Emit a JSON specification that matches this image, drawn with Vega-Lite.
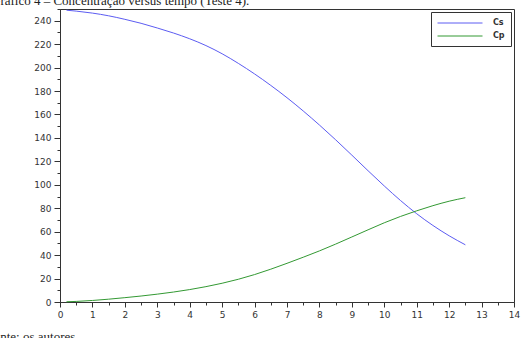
{
  "$schema": "https://vega.github.io/schema/vega-lite/v6.json",
  "autosize": "none",
  "width": 454,
  "height": 293,
  "padding": {"left": 60, "top": 9, "right": 11, "bottom": 36},
  "background": "white",
  "title": {
    "text": "Gráfico 4 – Concentração versus tempo (Teste 4).",
    "anchor": "start",
    "frame": "group",
    "font": "Liberation Serif",
    "fontSize": 13,
    "fontWeight": "normal",
    "color": "#222222",
    "baseline": "alphabetic",
    "dx": -69,
    "offset": 0,
    "dy": 10
  },
  "data": {
    "values": [
      {"t": 0.2, "serie": "Cs", "c": 249},
      {"t": 0.5, "serie": "Cs", "c": 248.2},
      {"t": 1, "serie": "Cs", "c": 246.5},
      {"t": 1.5, "serie": "Cs", "c": 244.2},
      {"t": 2, "serie": "Cs", "c": 241.2},
      {"t": 2.5, "serie": "Cs", "c": 237.8},
      {"t": 3, "serie": "Cs", "c": 233.8},
      {"t": 3.5, "serie": "Cs", "c": 229.5},
      {"t": 4, "serie": "Cs", "c": 224.6},
      {"t": 4.5, "serie": "Cs", "c": 218.8},
      {"t": 5, "serie": "Cs", "c": 211.8},
      {"t": 5.5, "serie": "Cs", "c": 203.6},
      {"t": 6, "serie": "Cs", "c": 194.6},
      {"t": 6.5, "serie": "Cs", "c": 184.8},
      {"t": 7, "serie": "Cs", "c": 174.3},
      {"t": 7.5, "serie": "Cs", "c": 163},
      {"t": 8, "serie": "Cs", "c": 151},
      {"t": 8.5, "serie": "Cs", "c": 138.4},
      {"t": 9, "serie": "Cs", "c": 125.3},
      {"t": 9.5, "serie": "Cs", "c": 112},
      {"t": 10, "serie": "Cs", "c": 99},
      {"t": 10.5, "serie": "Cs", "c": 86.6},
      {"t": 11, "serie": "Cs", "c": 75.3},
      {"t": 11.5, "serie": "Cs", "c": 65.3},
      {"t": 12, "serie": "Cs", "c": 56.5},
      {"t": 12.5, "serie": "Cs", "c": 48.8},
      {"t": 0.2, "serie": "Cp", "c": 0.2},
      {"t": 0.5, "serie": "Cp", "c": 0.5},
      {"t": 1, "serie": "Cp", "c": 1.3},
      {"t": 1.5, "serie": "Cp", "c": 2.4},
      {"t": 2, "serie": "Cp", "c": 3.7},
      {"t": 2.5, "serie": "Cp", "c": 5.1},
      {"t": 3, "serie": "Cp", "c": 6.7},
      {"t": 3.5, "serie": "Cp", "c": 8.5},
      {"t": 4, "serie": "Cp", "c": 10.6},
      {"t": 4.5, "serie": "Cp", "c": 13.1},
      {"t": 5, "serie": "Cp", "c": 16},
      {"t": 5.5, "serie": "Cp", "c": 19.4},
      {"t": 6, "serie": "Cp", "c": 23.4},
      {"t": 6.5, "serie": "Cp", "c": 28},
      {"t": 7, "serie": "Cp", "c": 33},
      {"t": 7.5, "serie": "Cp", "c": 38.2},
      {"t": 8, "serie": "Cp", "c": 43.6},
      {"t": 8.5, "serie": "Cp", "c": 49.4},
      {"t": 9, "serie": "Cp", "c": 55.5},
      {"t": 9.5, "serie": "Cp", "c": 61.6},
      {"t": 10, "serie": "Cp", "c": 67.6},
      {"t": 10.5, "serie": "Cp", "c": 73},
      {"t": 11, "serie": "Cp", "c": 77.8},
      {"t": 11.5, "serie": "Cp", "c": 82.2},
      {"t": 12, "serie": "Cp", "c": 86},
      {"t": 12.5, "serie": "Cp", "c": 89}
    ]
  },
  "mark": {"type": "line", "strokeWidth": 1, "interpolate": "monotone"},
  "encoding": {
    "x": {
      "field": "t",
      "type": "quantitative",
      "scale": {"domain": [0, 14], "nice": false, "zero": false},
      "axis": {
        "values": [0,0.5,1,1.5,2,2.5,3,3.5,4,4.5,5,5.5,6,6.5,7,7.5,8,8.5,9,9.5,10,10.5,11,11.5,12,12.5,13,13.5,14],
        "labelExpr": "datum.value % 1 === 0 ? format(datum.value, 'd') : ''",
        "grid": false,
        "domainColor": "#333333",
        "tickColor": "#333333",
        "tickSize": {"condition": {"test": "datum.value % 1 === 0", "value": 5}, "value": 3},
        "labelFont": "DejaVu Sans",
        "labelFontSize": 9,
        "labelColor": "#333333",
        "labelPadding": 3,
        "labelFlush": false,
        "title": "Fonte: os autores.",
        "titleFont": "Liberation Serif",
        "titleFontSize": 13,
        "titleFontWeight": "normal",
        "titleColor": "#222222",
        "titleAlign": "left",
        "titleAnchor": "start",
        "titleBaseline": "alphabetic",
        "titleX": -74,
        "titleY": 38
      }
    },
    "y": {
      "field": "c",
      "type": "quantitative",
      "scale": {"domain": [0, 250], "nice": false},
      "axis": {
        "values": [0,10,20,30,40,50,60,70,80,90,100,110,120,130,140,150,160,170,180,190,200,210,220,230,240,250],
        "labelExpr": "datum.value % 20 === 0 ? datum.label : ''",
        "grid": false,
        "domainColor": "#333333",
        "tickColor": "#333333",
        "tickSize": {"condition": {"test": "datum.value % 20 === 0", "value": 6}, "value": 3},
        "labelFont": "DejaVu Sans",
        "labelFontSize": 9,
        "labelColor": "#333333",
        "labelPadding": 3,
        "labelFlush": false,
        "title": null
      }
    },
    "color": {
      "field": "serie",
      "type": "nominal",
      "scale": {"domain": ["Cs", "Cp"], "range": ["#5c5cf2", "#339933"]},
      "legend": {
        "title": null,
        "orient": "top-right",
        "offset": 3,
        "symbolType": "M-1,0H9",
        "symbolSize": 81,
        "symbolStrokeWidth": 1,
        "symbolFillColor": "transparent",
        "labelFont": "DejaVu Sans",
        "labelFontSize": 8,
        "labelFontWeight": "bold",
        "labelColor": "#333333",
        "labelOffset": 46,
        "rowPadding": 4,
        "padding": 6,
        "fillColor": "white",
        "strokeColor": "#333333",
        "cornerRadius": 0
      }
    }
  },
  "config": {
    "view": {"stroke": "#333333", "strokeWidth": 1}
  }
}
